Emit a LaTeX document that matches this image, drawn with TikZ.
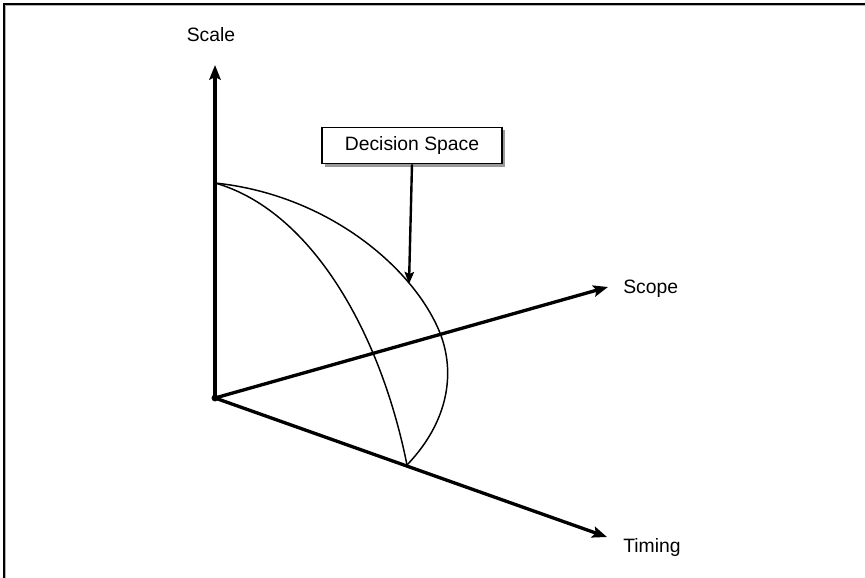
\documentclass[tikz,border=0pt]{standalone}
\usepackage{fontspec}
\setmainfont{Liberation Sans}
\usepackage{tikz}
\usetikzlibrary{arrows.meta,shadows}

\begin{document}
\begin{tikzpicture}[x=0.75pt, y=-0.75pt,
    every node/.style={font=\fontsize{14.5}{17}\selectfont},
    axis/.style={line width=2.5pt, -{Stealth[length=11pt, width=8.5pt, inset=2pt]}},
    curve/.style={line width=1.1pt},
    lbl/.style={inner sep=0pt}]
  \useasboundingbox (0,0) rectangle (865,578);
  % frame (top and left edges)
  \draw[gray!60, line width=1pt] (5.5,578) -- (5.5,5.5) -- (865,5.5);
  \draw[black, line width=1.2pt] (4,578) -- (4,4) -- (865,4);

  \coordinate (origin) at (215,398);
  \coordinate (scaleTip) at (215,65);
  \coordinate (scopeTip) at (608,287);
  \coordinate (timingTip) at (607,537);
  \coordinate (dsTop) at (215,183);
  \coordinate (dsMid) at (440,333);
  \coordinate (dsBottom) at (407,465);

  % axes
  \draw[axis] (origin) -- (scaleTip);
  \draw[axis] (origin) -- (scopeTip);
  \draw[axis] (origin) -- (timingTip);
  \fill (origin) circle (2.6pt);

  \node[lbl] (scaleLbl) at (211,35) {Scale};
  \node[lbl, anchor=west] (scopeLbl) at (623,289) {Scope};
  \node[lbl, anchor=west] (timingLbl) at (623,547) {Timing};

  % decision space
  \draw[curve] (dsTop) .. controls (310,210) and (380,330) .. (dsBottom);
  \draw[curve] (dsTop) .. controls (330,195) and (415,270) .. (dsMid)
    .. controls (455,371) and (450,420) .. (dsBottom);

  \node[draw=black, fill=white, line width=0.8pt, minimum width=135pt,
        minimum height=27.5pt, inner sep=0pt,
        drop shadow={shadow xshift=2.2pt, shadow yshift=-2.2pt, fill=gray!80, opacity=1}]
    (ds) at (412,145.5) {Decision Space};
  \coordinate (dsTip) at (409,284);
  \draw[line width=1.8pt, -{Stealth[length=9pt, width=7pt, inset=1.5pt]}]
    (ds.south) -- (dsTip);
\end{tikzpicture}
\end{document}
